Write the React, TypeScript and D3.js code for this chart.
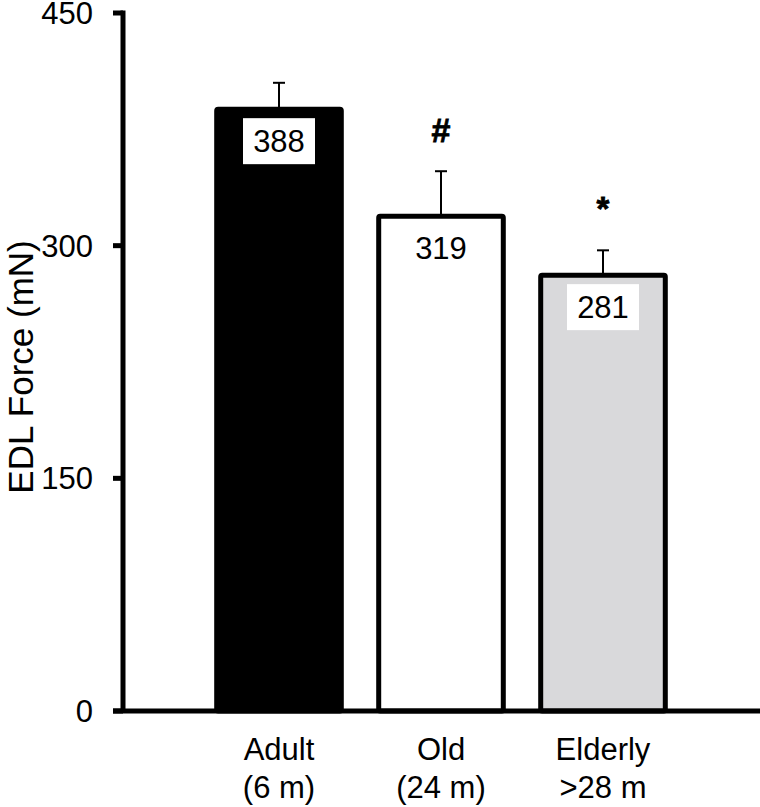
import React from "react";
import * as d3 from "d3";

const categories = ["Adult", "Old", "Elderly"];
const subLabels = ["(6 m)", "(24 m)", ">28 m"];
const values = [388, 319, 281];
const errors = [17, 29, 16];
const markers = ["", "#", "*"];
const fills = ["#000000", "#ffffff", "#d9d9db"];
const yTicks = [0, 150, 300, 450];

const W = 760;
const H = 807;
const FONT = "Liberation Sans, Arial, Helvetica, sans-serif";

export default function App() {
  const y = d3.scaleLinear().domain([0, 450]).range([711, 13]);
  const x = d3
    .scaleBand<string>()
    .domain(categories)
    .range([198, 684])
    .paddingInner(0.2)
    .paddingOuter(0.1);
  const bw = x.bandwidth();
  const sw = 5;
  const axisX = 123;

  return (
    <svg
      width={W}
      height={H}
      style={{ position: "absolute", left: 0, top: 0, display: "block" }}
      fontFamily={FONT}
    >
      <rect x={0} y={0} width={W} height={H} fill="#fff" />
      {categories.map((c, i) => {
        const x0 = x(c)!;
        const cx = x0 + bw / 2;
        const yv = y(values[i]);
        const ye = y(values[i] + errors[i]);
        return (
          <g key={c}>
            <line x1={cx} x2={cx} y1={yv} y2={ye} stroke="#000" strokeWidth={2} />
            <line x1={cx - 6} x2={cx + 6} y1={ye} y2={ye} stroke="#000" strokeWidth={2} />
            <rect
              x={x0 + sw / 2}
              y={yv}
              width={bw - sw}
              height={y(0) - yv}
              fill={fills[i]}
              stroke="#000"
              strokeWidth={sw}
              rx={1.5}
            />
            <rect x={cx - 36} y={yv + 9} width={72} height={46} fill="#fff" />
            <text x={cx} y={yv + 43} textAnchor="middle" fontSize={31} fill="#000">
              {values[i]}
            </text>
            {markers[i] && (
              <text
                x={cx}
                y={markers[i] === "*" ? ye - 30 : ye - 29}
                textAnchor="middle"
                fontSize={markers[i] === "#" ? 34 : 33}
                fontWeight="bold"
                stroke="#000"
                strokeWidth={0.8}
                fill="#000"
              >
                {markers[i]}
              </text>
            )}
            <text x={cx} y={760} textAnchor="middle" fontSize={31} fill="#000">
              {c}
            </text>
            <text x={cx} y={798} textAnchor="middle" fontSize={31} fill="#000">
              {subLabels[i]}
            </text>
          </g>
        );
      })}
      {/* y axis */}
      <line x1={axisX} x2={axisX} y1={y(450) - 2.5} y2={y(0)} stroke="#000" strokeWidth={sw} />
      <line x1={113} x2={W} y1={y(0)} y2={y(0)} stroke="#000" strokeWidth={sw} />
      {yTicks.map((t) => (
        <g key={t}>
          <line x1={113} x2={axisX} y1={y(t)} y2={y(t)} stroke="#000" strokeWidth={sw} />
          <text x={93} y={y(t)} dy="0.36em" textAnchor="end" fontSize={31} fill="#000">
            {t}
          </text>
        </g>
      ))}
      <text
        transform={`translate(33, 367) rotate(-90)`}
        textAnchor="middle"
        fontSize={35}
        fill="#000"
      >
        EDL Force (mN)
      </text>
    </svg>
  );
}
